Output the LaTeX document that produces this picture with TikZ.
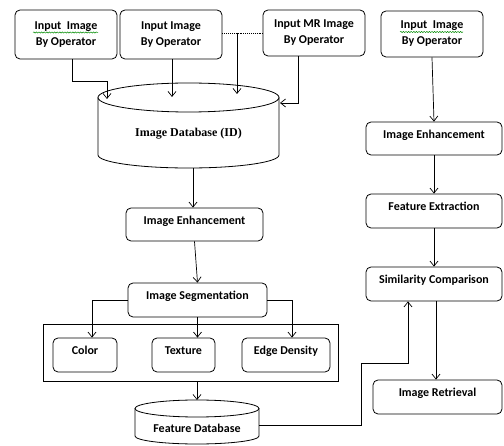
\documentclass[tikz,border=0pt]{standalone}
\usepackage{fontspec}
\setmainfont{Carlito}
\newfontfamily\serifbold{Liberation Serif}
\usetikzlibrary{arrows.meta,decorations.pathmorphing}
\begin{document}
\begin{tikzpicture}[x=1pt,y=-1pt,
  box/.style={draw, rounded corners=5pt, line width=0.8pt, align=center, inner sep=0pt,
    font=\fontsize{12}{16}\selectfont\bfseries},
  onebox/.style={box, text height=9pt, text depth=9pt},
  plainbox/.style={draw, line width=0.8pt, inner sep=0pt},
  arr/.style={-{Straight Barb[length=5pt,width=8pt]}, line width=0.7pt},
  conn/.style={line width=0.9pt},
  cyl/.style={line width=0.8pt},
  cyltext/.style={inner sep=0pt},
  spell/.style={green!55!black, line width=0.5pt, decorate, decoration={snake, amplitude=0.6pt, segment length=2.6pt}}]
\useasboundingbox (0,0) rectangle (504,446);
\fill[white] (0,0) rectangle (504,446);

% top input boxes
\node[box, minimum width=102pt, minimum height=49pt] (b1) at (66,34.5) {Input\ \ Image\\By Operator};
\node[box, minimum width=102pt, minimum height=49pt] (b2) at (171,34.5) {Input Image\\By Operator};
\node[box, minimum width=102pt, minimum height=46pt] (b3) at (314,33) {Input MR Image\\By Operator};
\node[box, minimum width=102pt, minimum height=46pt] (b4) at (432,34) {Input\ \ Image\\By Operator};

% Image database cylinder
\draw[cyl] (188.5,97.5) ellipse [x radius=90.5pt, y radius=14.5pt];
\draw[cyl] (98,97.5) -- (98,155) arc [start angle=180, end angle=360, x radius=90.5pt, y radius=13pt] -- (279,97.5);
\node[cyltext, font=\serifbold\fontsize{12}{14}\selectfont\bfseries] (idb) at (188.5,134) {Image Database (ID)};
\coordinate (db1) at (107,99);
\coordinate (db2) at (172,97);
\coordinate (dl) at (237,94);
\coordinate (db3) at (280,103);
\coordinate (dbbot) at (193,168);

% left column
\node[onebox, minimum width=137pt, minimum height=33pt] (enhl) at (194.5,224.5) {Image Enhancement};
\node[onebox, minimum width=139pt, minimum height=34pt] (seg) at (197.5,300) {Image Segmentation};
\node[plainbox, minimum width=295pt, minimum height=57pt] (outer) at (190.5,352.5) {};
\node[onebox, minimum width=64pt, minimum height=34pt] (color) at (85,355) {Color};
\node[onebox, minimum width=63pt, minimum height=34pt] (texture) at (183.5,355) {Texture};
\node[onebox, minimum width=88pt, minimum height=34pt] (edge) at (286,355) {Edge Density};

% Feature database cylinder
\draw[cyl] (197,408.5) ellipse [x radius=62pt, y radius=8.5pt];
\draw[cyl] (135,408.5) -- (135,436) arc [start angle=180, end angle=360, x radius=62pt, y radius=8pt] -- (259,408.5);
\node[cyltext, font=\fontsize{12}{14}\selectfont\bfseries] (fdb) at (197,428) {Feature Database};
\coordinate (fdbtop) at (197,400);
\coordinate (fdbright) at (259,425);

% right column
\node[onebox, minimum width=136pt, minimum height=33pt] (enhr) at (434,138.5) {Image Enhancement};
\node[onebox, minimum width=136pt, minimum height=34pt] (fe) at (434,211) {Feature Extraction};
\node[onebox, minimum width=136pt, minimum height=34pt] (sim) at (434,284) {Similarity Comparison};
\node[onebox, minimum width=129pt, minimum height=34pt] (retr) at (437.5,397) {Image Retrieval};

% spell-check underlines
\draw[spell] (33,32.5) -- (98,32.5);
\draw[spell] (400,32) -- (463,32);

% connectors top
\draw[arr] ([xshift=6pt]b1.south) -- ++(0,22) -| (db1);
\draw[arr] (b2.south -| db2) -- (db2);
\draw[conn, densely dotted] (b3.west -| b2.east) -- (b3.west);
\draw[arr] (b3.west -| dl) -- (dl);
\draw[arr] ([xshift=-16pt]b3.south) |- (db3);

% left column connectors
\draw[arr] (dbbot) -- (dbbot |- enhl.north);
\draw[arr] (enhl.south) -- (seg.north);
\draw[arr] (seg.west) -| ([xshift=7pt]color.north);
\draw[arr] (seg.south) -- (seg.south |- texture.north);
\draw[arr] (seg.east) -| ([xshift=6pt]edge.north);
\draw[arr] (outer.south -| fdbtop) -- (fdbtop);

% right column connectors
\draw[arr] (b4.south) -- (enhr.north);
\draw[arr] (enhr.south) -- (fe.north);
\draw[arr] (fe.south) -- (sim.north);
\draw[arr] ([xshift=2pt]sim.south) -- ([xshift=2pt]sim.south |- retr.north);
\draw[arr] (fdbright) -- (361,425) -- (361,363) -| ([xshift=-26pt]sim.south);
\end{tikzpicture}
\end{document}
